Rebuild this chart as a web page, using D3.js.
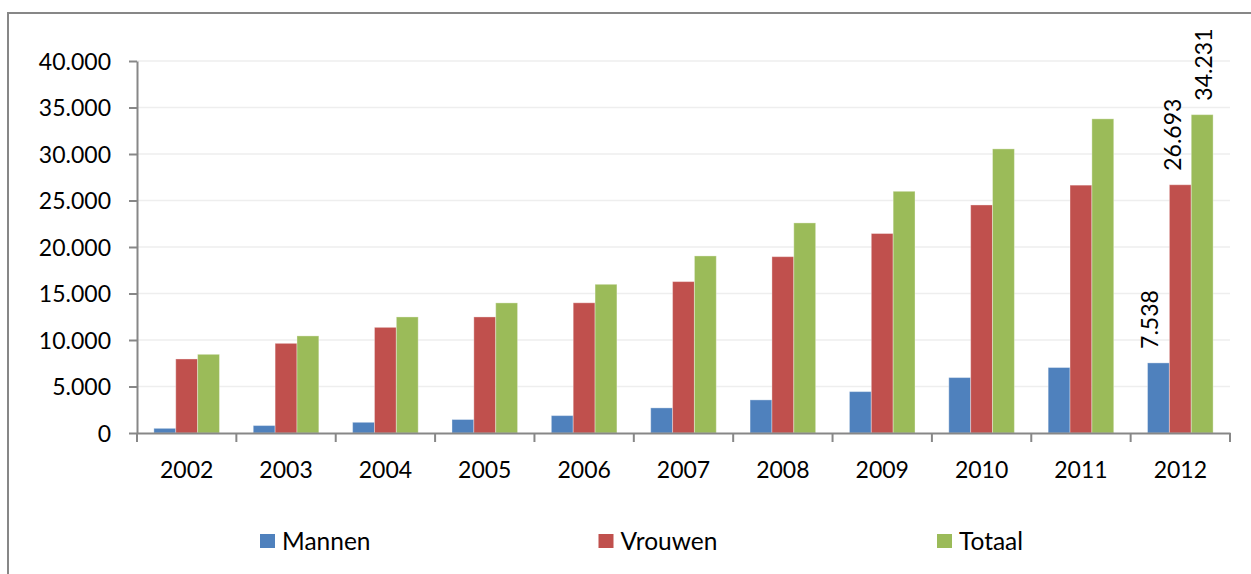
<!DOCTYPE html>
<html lang="nl">
<head>
  <meta charset="UTF-8">
  <title>Mannen / Vrouwen / Totaal 2002-2012</title>
  <script src="https://d3js.org/d3.v7.min.js"></script>
  <style>
    body { margin: 0; background: #fff; }
    text { font-family: Lato, "Open Sans", sans-serif; fill: #000; }
    .grid line { stroke: #eeeeee; stroke-width: 1.5px; }
    .axis path, .axis line { stroke: #878787; stroke-width: 2px; }
  </style>
</head>
<body>
  <svg width="1251" height="574"></svg>

  <script>
    var years = ["2002", "2003", "2004", "2005", "2006", "2007", "2008", "2009", "2010", "2011", "2012"];
    var seriesNames = ["Mannen", "Vrouwen", "Totaal"];
    var mannen  = [500, 800, 1150, 1450, 1870, 2700, 3560, 4450, 5960, 7040, 7538];
    var vrouwen = [7960, 9640, 11360, 12480, 14000, 16280, 18960, 21450, 24520, 26650, 26693];
    var totaal  = [8460, 10440, 12480, 13990, 15990, 19040, 22590, 25990, 30550, 33780, 34231];
    var yTicks = [0, 5000, 10000, 15000, 20000, 25000, 30000, 35000, 40000];
    // only the last year carries value labels
    var labelYear = "2012";

    var colors = ["#4f81bd", "#c0504d", "#9bbb59"];
    var labelShift = [-9, -8, 2];

    var values = [mannen, vrouwen, totaal];
    var rows = years.map(function(y, i) {
      return { year: y, vals: seriesNames.map(function(s, k) { return { key: s, k: k, value: values[k][i] }; }) };
    });

    var svg = d3.select("svg");
    var plotL = 137, plotR = 1230, plotT = 61, plotB = 433;

    // chart frame (runs past the right and bottom edges)
    svg.append("rect")
        .attr("x", 8).attr("y", 13)
        .attr("width", 1300).attr("height", 620)
        .attr("fill", "none")
        .attr("stroke", "#878787")
        .attr("stroke-width", 2);

    var x0 = d3.scaleBand().domain(years).range([plotL, plotR]);
    var groupW = x0.bandwidth() * 0.66;
    var x1 = d3.scaleBand().domain(seriesNames).range([0, groupW]);
    var y = d3.scaleLinear().domain([0, 40000]).range([plotB, plotT]);

    var fmt = function(d) { return d3.format(",")(d).replace(/,/g, "."); };

    svg.append("g")
        .attr("class", "grid")
        .selectAll("line")
        .data(yTicks.slice(1))
        .enter().append("line")
        .attr("x1", plotL).attr("x2", plotR)
        .attr("y1", function(d) { return y(d); })
        .attr("y2", function(d) { return y(d); });

    var groups = svg.selectAll(".year")
        .data(rows)
        .enter().append("g")
        .attr("class", "year")
        .attr("transform", function(d) {
          return "translate(" + (x0(d.year) + (x0.bandwidth() - groupW) / 2) + ",0)";
        });

    groups.selectAll("rect")
        .data(function(d) { return d.vals; })
        .enter().append("rect")
        .attr("x", function(d) { return x1(d.key); })
        .attr("width", x1.bandwidth())
        .attr("y", function(d) { return y(d.value); })
        .attr("height", function(d) { return y(0) - y(d.value); })
        .attr("fill", function(d) { return colors[d.k]; })
        .attr("stroke", "#ffffff")
        .attr("stroke-opacity", 0.35)
        .attr("stroke-width", 1);

    groups.filter(function(d) { return d.year === labelYear; })
      .selectAll(".lbl")
        .data(function(d) { return d.vals; })
        .enter().append("text")
        .attr("class", "lbl")
        .attr("transform", function(d) {
          var cx = x1(d.key) + x1.bandwidth() / 2 + labelShift[d.k];
          return "translate(" + cx + "," + (y(d.value) - 14) + ") rotate(-90)";
        })
        .attr("dy", "0.36em")
        .attr("font-size", 23)
        .text(function(d) { return fmt(d.value); });

    var yAxis = svg.append("g")
        .attr("class", "axis")
        .attr("transform", "translate(" + plotL + ",0)")
        .call(d3.axisLeft(y).tickValues(yTicks).tickFormat(fmt).tickSize(8).tickSizeOuter(0).tickPadding(18));
    yAxis.selectAll("text").attr("font-size", 23).attr("dy", "0.36em");

    var xAxis = svg.append("g")
        .attr("class", "axis")
        .attr("transform", "translate(0," + plotB + ")")
        .call(d3.axisBottom(x0).tickSize(0).tickSizeOuter(0).tickPadding(33));
    xAxis.selectAll("text").attr("font-size", 23).attr("dy", "0.5em");
    xAxis.selectAll(".sep")
        .data(years.concat(["end"]))
        .enter().append("line")
        .attr("class", "sep")
        .attr("x1", function(d, i) { return plotL + i * x0.bandwidth(); })
        .attr("x2", function(d, i) { return plotL + i * x0.bandwidth(); })
        .attr("y1", 0).attr("y2", 9);

    var legend = svg.selectAll(".legend")
        .data(seriesNames)
        .enter().append("g")
        .attr("class", "legend")
        .attr("transform", function(d, i) { return "translate(" + (260 + i * 338.5) + ",534)"; });
    legend.append("rect")
        .attr("width", 15).attr("height", 14)
        .attr("fill", function(d, i) { return colors[i]; });
    legend.append("text")
        .attr("x", 22).attr("y", 15.5)
        .attr("font-size", 24.5)
        .text(function(d) { return d; });
  </script>
</body>
</html>
